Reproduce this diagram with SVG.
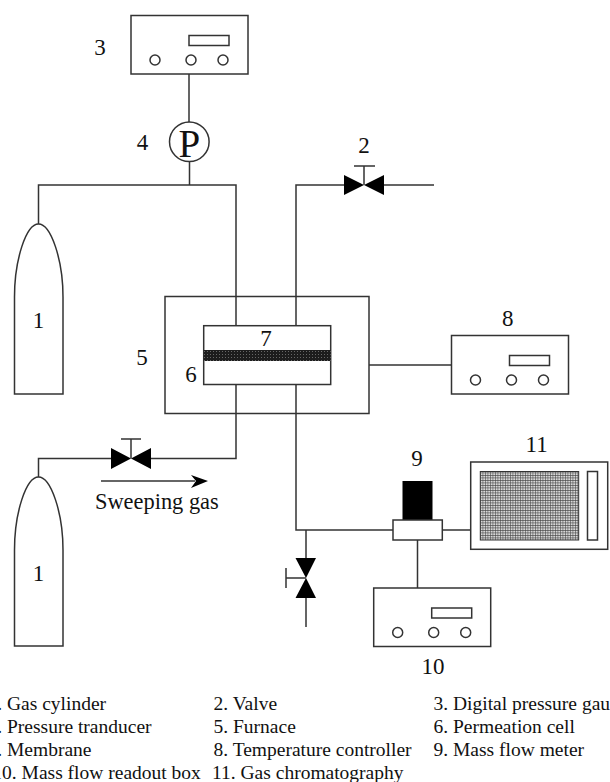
<svg xmlns="http://www.w3.org/2000/svg" width="610" height="782" viewBox="0 0 610 782">
<style>
text{font-family:"Liberation Serif","Times New Roman",serif;fill:#111}
.n{font-size:23px;text-anchor:middle}
.l{font-size:19.5px}
.s{fill:#fff;stroke:#333;stroke-width:1.5}
.w{fill:none;stroke:#333;stroke-width:1.5}
.b{fill:#000;stroke:none}
</style>
<defs>
<pattern id="mesh" width="2.5" height="2.5" patternUnits="userSpaceOnUse"><rect width="2.5" height="2.5" fill="#d8d8d8"/><path d="M0 0H2.5M0 0V2.5" stroke="#444" stroke-width="1.1"/></pattern>
<pattern id="dark" width="3" height="3" patternUnits="userSpaceOnUse"><rect width="3" height="3" fill="#1c1c1c"/><rect width="1" height="1" fill="#666"/></pattern>
<g id="readout"><rect class="s" x="0" y="0" width="117" height="58.500"/><rect class="s" x="58" y="20" width="40" height="10"/><circle class="s" cx="24" cy="44.500" r="5"/><circle class="s" cx="60" cy="44.500" r="5"/><circle class="s" cx="92" cy="44.500" r="5"/></g>
</defs>
<g id="connectors">
<path class="w" d="M189 74V122M189.500 162V185M38.500 224V185H236V326M296 326V185H344M384 185H434"/>
<path class="w" d="M38.500 477V458.500H111M151 458.500H236V384M296 384V530H393M442 530H471M417.500 540V588M306 530V558M306 598V627M369 365H451.500"/>
<path class="w" d="M101 481H195"/><path class="b" d="M191 475L208 481L191 488L196 481Z"/>
</g>
<g id="n5"><rect class="w" x="165" y="296.500" width="204" height="117"/><text class="n" x="142" y="365">5</text></g>
<g id="n1a"><path class="s" d="M14.500 297C14.500 260 26 224 38.500 224C51 224 63 260 63 297V394H14.500Z"/><text class="n" x="38.500" y="328">1</text></g>
<g id="n1b"><path class="s" d="M14.500 550C14.500 513 26 477 38.500 477C51 477 63 513 63 550V646H14.500Z"/><text class="n" x="38.500" y="581">1</text></g>
<g id="n2"><path class="b" d="M344 175L364 185L344 195ZM384 175L364 185L384 195Z"/><path class="w" d="M364 185V166M354 166H375"/><text class="n" x="364" y="153">2</text></g>
<g id="n2b"><path class="b" d="M111 448L131 458.500L111 469ZM151 448L131 458.500L151 469Z"/><path class="w" d="M131 458.500V439M121 439H141"/></g>
<g id="n2c"><path class="b" d="M295.500 558L306 578L316 558ZM295.500 598L306 578L316 598Z"/><path class="w" d="M306 578H286M286 568V588"/></g>
<g id="n3"><use href="#readout" x="131" y="15.500"/><text class="n" x="100" y="55">3</text></g>
<g id="n4"><circle class="s" cx="189.300" cy="141.700" r="19.800"/><text x="189.300" y="156.700" font-size="39" text-anchor="middle">P</text><text class="n" x="142.500" y="150">4</text></g>
<g id="n6"><rect class="s" x="203.700" y="325.700" width="127" height="58.800"/><rect x="203.700" y="350" width="127" height="11" fill="url(#dark)"/><text class="n" x="191" y="382">6</text><text class="n" x="266" y="346">7</text></g>
<g id="n8"><use href="#readout" x="451.500" y="335.500"/><text class="n" x="507.700" y="326">8</text></g>
<g id="n9"><rect class="b" x="402.500" y="481" width="30" height="39"/><rect class="s" x="393" y="520" width="49.300" height="20"/><text class="n" x="417" y="466">9</text></g>
<g id="n10"><use href="#readout" x="373.700" y="588"/><text class="n" x="433" y="674">10</text></g>
<g id="n11"><rect class="s" x="470.700" y="462" width="137" height="87.300"/><rect x="480.300" y="471.500" width="98.400" height="68.500" fill="url(#mesh)" stroke="#333" stroke-width="1"/><rect class="s" x="587.500" y="471.500" width="10" height="68.500"/><text class="n" x="536.700" y="452">11</text></g>
<g id="labels">
<text x="95" y="509" font-size="22.400">Sweeping gas</text>
<text class="l" x="-12.500" y="710">1. Gas cylinder</text>
<text class="l" x="213.500" y="710">2. Valve</text>
<text class="l" x="433.500" y="710">3. Digital pressure gauge</text>
<text class="l" x="-12.500" y="733">4. Pressure tranducer</text>
<text class="l" x="213.500" y="733">5. Furnace</text>
<text class="l" x="433.500" y="733">6. Permeation cell</text>
<text class="l" x="-12.500" y="756">7. Membrane</text>
<text class="l" x="213.500" y="756">8. Temperature controller</text>
<text class="l" x="433.500" y="756">9. Mass flow meter</text>
<text class="l" x="-7.700" y="779">10. Mass flow readout box</text>
<text class="l" x="212" y="779">11. Gas chromatography</text>
</g>
</svg>
